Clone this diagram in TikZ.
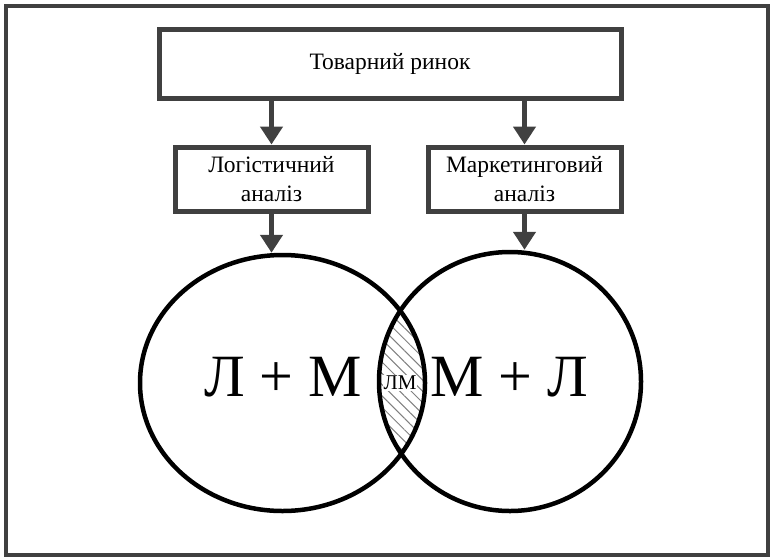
\documentclass[tikz,border=0pt]{standalone}
\usepackage{fontspec}
\newfontfamily\tnr{Liberation Serif}
\usetikzlibrary{patterns.meta,arrows.meta,shapes.geometric}
\definecolor{dgray}{HTML}{404040}
\begin{document}
\begin{tikzpicture}[x=1pt,y=-1pt,
  frame/.style={draw=dgray, line width=4pt},
  box/.style={draw=dgray, line width=5pt, fill=white, inner sep=0pt, align=center, font=\tnr\fontsize{23.5}{29}\selectfont},
  link/.style={draw=dgray, line width=5pt, -{Triangle[length=18pt,width=22pt]}},
  venn/.style={ellipse, draw=black, line width=4.5pt, inner sep=0pt},
  big/.style={font=\tnr\fontsize{60}{66}\selectfont, inner sep=0pt},
  hatch/.style={pattern={Lines[angle=-45,distance=8pt,line width=1pt]}, pattern color=gray}
]
\useasboundingbox (0,0) rectangle (770,557);
\draw[frame] (6,6) rectangle (768,555);
\node[box, minimum width=462pt, minimum height=69pt] (top) at (390,63.5) {Товарний ринок};
\node[box, minimum width=193pt, minimum height=64pt] (la) at (271.5,179) {Логістичний\\аналіз};
\node[box, minimum width=193pt, minimum height=64pt] (ma) at (524.5,179) {Маркетинговий\\аналіз};
\begin{scope}
  \clip (282.5,383) ellipse [x radius=142.5, y radius=128];
  \fill[hatch] (510,381.5) ellipse [x radius=131, y radius=129.5];
\end{scope}
\node[venn, minimum width=285pt, minimum height=256pt] (L) at (282.5,383) {};
\node[venn, minimum width=262pt, minimum height=259pt] (M) at (510,381.5) {};
\node[big] (lt) at (283,377) {Л + М};
\node[big] (mt) at (509,377) {М + Л};
\node[fill=white, inner sep=1pt, font=\tnr\fontsize{21}{22}\selectfont] (lm) at (400,383) {ЛМ};
\draw[link] (top.south -| la.north) -- (la.north);
\draw[link] (top.south -| ma.north) -- (ma.north);
\draw[link] (la.south) -- (la.south |- L.north);
\draw[link] (ma.south) -- (ma.south |- M.north);
\end{tikzpicture}
\end{document}
